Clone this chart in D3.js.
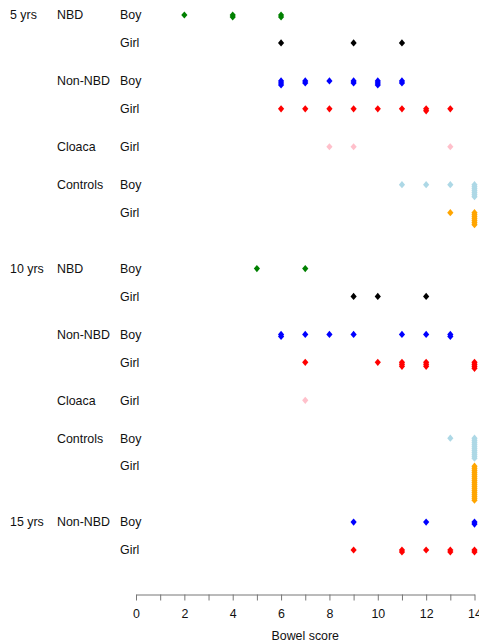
<!DOCTYPE html>
<html>
<head>
<meta charset="utf-8">
<script src="https://cdn.jsdelivr.net/npm/d3@7"></script>
<style>
  body { margin: 0; background: #fff; }
  svg text { font-family: "Liberation Sans", Arial, sans-serif; font-size: 12.4px; fill: #111; }
</style>
</head>
<body>
<div id="chart"></div>
<script>
const width = 479;
const height = 644;

// scores per row (repeated values = several children with that score)
const nbd5Boy   = [2, 4, 4, 6, 6];
const nbd5Girl  = [6, 9, 11];
const non5Boy   = [6, 6, 6, 7, 7, 8, 9, 9, 10, 10, 10, 11, 11];
const non5Girl  = [6, 7, 8, 9, 10, 11, 12, 12, 13];
const clo5Girl  = [8, 9, 13];
const ctl5Boy   = [11, 12, 13, 14, 14, 14, 14, 14, 14, 14];
const ctl5Girl  = [13, 14, 14, 14, 14, 14, 14, 14];
const nbd10Boy  = [5, 7];
const nbd10Girl = [9, 10, 12];
const non10Boy  = [6, 6, 7, 8, 9, 11, 12, 13, 13];
const non10Girl = [7, 10, 11, 11, 11, 12, 12, 12, 14, 14, 14, 14];
const clo10Girl = [7];
const ctl10Boy  = [13, 14, 14, 14, 14, 14, 14, 14, 14, 14, 14, 14];
const ctl10Girl = [14, 14, 14, 14, 14, 14, 14, 14, 14, 14, 14, 14, 14, 14, 14, 14, 14, 14];
const non15Boy  = [9, 12, 14, 14];
const non15Girl = [9, 11, 11, 12, 13, 13, 14, 14];

const scoreTicks = [0, 1, 2, 3, 4, 5, 6, 7, 8, 9, 10, 11, 12, 13, 14];

const rows = [
    ['5 yrs', 'NBD', 'Boy', nbd5Boy],
    ['5 yrs', 'NBD', 'Girl', nbd5Girl],
    ['5 yrs', 'Non-NBD', 'Boy', non5Boy],
    ['5 yrs', 'Non-NBD', 'Girl', non5Girl],
    ['5 yrs', 'Cloaca', 'Girl', clo5Girl],
    ['5 yrs', 'Controls', 'Boy', ctl5Boy],
    ['5 yrs', 'Controls', 'Girl', ctl5Girl],
    ['10 yrs', 'NBD', 'Boy', nbd10Boy],
    ['10 yrs', 'NBD', 'Girl', nbd10Girl],
    ['10 yrs', 'Non-NBD', 'Boy', non10Boy],
    ['10 yrs', 'Non-NBD', 'Girl', non10Girl],
    ['10 yrs', 'Cloaca', 'Girl', clo10Girl],
    ['10 yrs', 'Controls', 'Boy', ctl10Boy],
    ['10 yrs', 'Controls', 'Girl', ctl10Girl],
    ['15 yrs', 'Non-NBD', 'Boy', non15Boy],
    ['15 yrs', 'Non-NBD', 'Girl', non15Girl]
].map(([age, group, sex, values]) => ({age, group, sex, values}));

const color = d3.scaleOrdinal()
    .domain(['NBD Boy', 'NBD Girl', 'Non-NBD Boy', 'Non-NBD Girl', 'Cloaca Girl', 'Controls Boy', 'Controls Girl'])
    .range(['#008000', '#000000', '#0000ff', '#ff0000', '#ffc0cb', '#add8e6', '#ffa500']);

// vertical slots: extra space between groups and between ages
let slot = 0;
rows.forEach((r, i) => {
    if (i > 0) {
        const p = rows[i - 1];
        if (p.age !== r.age) slot += 2;
        else if (p.group !== r.group) slot += 38 / 28;
        else slot += 1;
    }
    r.slot = slot;
    r.firstAge = i === 0 || rows[i - 1].age !== r.age;
    r.firstGroup = r.firstAge || rows[i - 1].group !== r.group;
});

const x = d3.scaleLinear().domain([0, 14]).range([136, 474.5]);
const y = d3.scaleLinear().domain([0, slot]).range([15, 550]);
const stackStep = 2;

const svg = d3.select('#chart')
    .append('svg')
    .attr('width', width)
    .attr('height', height);

// row labels
const labels = svg.append('g').attr('class', 'labels');
rows.forEach(r => {
    if (r.firstAge) labels.append('text').attr('x', 10).attr('y', y(r.slot)).attr('dy', '0.35em').text(r.age);
    if (r.firstGroup) labels.append('text').attr('x', 57).attr('y', y(r.slot)).attr('dy', '0.35em').text(r.group);
    labels.append('text').attr('x', 120).attr('y', y(r.slot)).attr('dy', '0.35em').text(r.sex);
});

// stacked points
const points = [];
rows.forEach(r => {
    const seen = {};
    r.values.forEach(v => {
        const k = seen[v] || 0;
        seen[v] = k + 1;
        points.push({score: v, k, row: r});
    });
});

const diamond = 'M0,-3.6L3.1,0L0,3.6L-3.1,0Z';
svg.append('g')
    .attr('class', 'points')
    .selectAll('path')
    .data(points)
    .enter()
    .append('path')
    .attr('d', diamond)
    .attr('transform', d => `translate(${x(d.score)},${y(d.row.slot) + d.k * stackStep})`)
    .style('fill', d => color(d.row.group + ' ' + d.row.sex));

// axis
const axis = svg.append('g')
    .attr('transform', 'translate(0,594.5)')
    .call(d3.axisBottom(x)
        .tickValues(scoreTicks)
        .tickSize(6)
        .tickSizeOuter(0)
        .tickPadding(9)
        .tickFormat(d => d % 2 === 0 ? d : ''));
axis.selectAll('path, line').attr('stroke', '#777');
axis.selectAll('text').style('font-size', '12.4px').style('font-family', '"Liberation Sans", Arial, sans-serif').attr('fill', '#111');

svg.append('text')
    .attr('x', (x(0) + x(14)) / 2)
    .attr('y', 636)
    .attr('dy', '0.35em')
    .attr('text-anchor', 'middle')
    .text('Bowel score');
</script>
</body>
</html>
